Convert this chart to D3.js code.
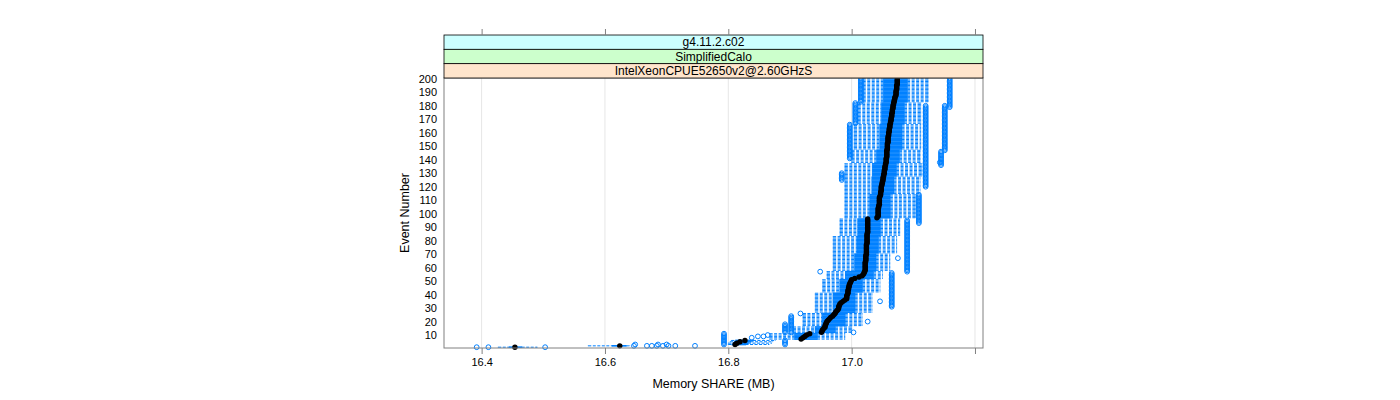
<!DOCTYPE html>
<html>
<head>
<meta charset="utf-8">
<script src="https://cdn.jsdelivr.net/npm/d3@7"></script>
<style>
  body { margin: 0; background: #fff; }
  text { font-family: "Liberation Sans", Arial, sans-serif; }
</style>
</head>
<body>
<svg id="chart"></svg>
<script>
// event numbers (y categories)
const events = d3.range(1, 201);

// per-event box statistics, Memory SHARE (MB)
const median = [
  16.454, 16.624, 16.811, 16.814, 16.819, 16.827, 16.918, 16.921, 16.924, 16.927,
  16.932, 16.951, 16.952, 16.953, 16.955, 16.957, 16.957, 16.958, 16.959, 16.960,
  16.962, 16.964, 16.966, 16.969, 16.971, 16.973, 16.974, 16.976, 16.978, 16.979,
  16.979, 16.980, 16.981, 16.983, 16.986, 16.989, 16.992, 16.992, 16.992, 16.993,
  16.994, 16.994, 16.994, 16.995, 16.995, 16.996, 16.996, 16.997, 16.998, 16.999,
  17.000, 17.005, 17.012, 17.017, 17.019, 17.020, 17.021, 17.022, 17.022, 17.022,
  17.022, 17.022, 17.022, 17.022, 17.023, 17.023, 17.023, 17.023, 17.023, 17.024,
  17.024, 17.024, 17.024, 17.024, 17.024, 17.024, 17.024, 17.025, 17.025, 17.025,
  17.025, 17.025, 17.025, 17.025, 17.025, 17.026, 17.026, 17.026, 17.026, 17.026,
  17.026, 17.026, 17.026, 17.026, 17.026, 17.026, 17.041, 17.043, 17.043, 17.043,
  17.043, 17.043, 17.043, 17.043, 17.044, 17.044, 17.045, 17.045, 17.045, 17.045,
  17.045, 17.045, 17.046, 17.047, 17.047, 17.047, 17.048, 17.048, 17.048, 17.048,
  17.049, 17.049, 17.050, 17.050, 17.051, 17.051, 17.051, 17.052, 17.052, 17.053,
  17.053, 17.053, 17.054, 17.054, 17.054, 17.055, 17.055, 17.056, 17.056, 17.056,
  17.056, 17.057, 17.057, 17.057, 17.057, 17.057, 17.057, 17.058, 17.058, 17.058,
  17.058, 17.058, 17.059, 17.059, 17.059, 17.059, 17.059, 17.060, 17.060, 17.060,
  17.061, 17.061, 17.061, 17.062, 17.062, 17.062, 17.063, 17.063, 17.064, 17.064,
  17.064, 17.065, 17.065, 17.065, 17.066, 17.066, 17.066, 17.067, 17.067, 17.067,
  17.068, 17.068, 17.069, 17.069, 17.070, 17.070, 17.071, 17.072, 17.072, 17.072,
  17.072, 17.073, 17.073, 17.073, 17.073, 17.074, 17.074, 17.074, 17.074, 17.074
];

const whiskerLo = [
  16.427, 16.573, 16.800, 16.800, 16.803, 16.805, 16.867, 16.867, 16.867, 16.867,
  16.867, 16.905, 16.905, 16.905, 16.905, 16.905, 16.921, 16.921, 16.921, 16.921,
  16.921, 16.921, 16.921, 16.921, 16.921, 16.921, 16.941, 16.941, 16.941, 16.941,
  16.941, 16.941, 16.941, 16.941, 16.941, 16.941, 16.941, 16.941, 16.941, 16.941,
  16.941, 16.953, 16.953, 16.953, 16.953, 16.953, 16.953, 16.953, 16.953, 16.953,
  16.953, 16.960, 16.960, 16.960, 16.960, 16.960, 16.960, 16.970, 16.970, 16.970,
  16.970, 16.970, 16.970, 16.970, 16.970, 16.970, 16.970, 16.970, 16.970, 16.970,
  16.970, 16.970, 16.970, 16.970, 16.970, 16.970, 16.970, 16.970, 16.970, 16.970,
  16.970, 16.970, 16.970, 16.981, 16.981, 16.981, 16.981, 16.981, 16.981, 16.981,
  16.981, 16.981, 16.981, 16.981, 16.981, 16.981, 16.989, 16.989, 16.989, 16.989,
  16.989, 16.989, 16.989, 16.989, 16.989, 16.989, 16.989, 16.989, 16.989, 16.989,
  16.989, 16.989, 16.989, 16.989, 16.989, 16.989, 16.989, 16.989, 16.989, 16.989,
  16.989, 16.989, 16.989, 16.989, 16.989, 16.989, 16.989, 16.989, 16.989, 16.989,
  16.989, 16.989, 16.989, 16.989, 16.989, 16.989, 16.989, 17.000, 17.000, 17.000,
  17.000, 17.000, 17.000, 17.000, 17.000, 17.000, 17.000, 17.004, 17.004, 17.004,
  17.004, 17.004, 17.004, 17.004, 17.004, 17.004, 17.004, 17.004, 17.004, 17.004,
  17.004, 17.004, 17.004, 17.004, 17.004, 17.004, 17.010, 17.010, 17.010, 17.010,
  17.010, 17.010, 17.010, 17.010, 17.010, 17.010, 17.010, 17.010, 17.010, 17.010,
  17.010, 17.010, 17.018, 17.018, 17.018, 17.018, 17.018, 17.018, 17.018, 17.018,
  17.018, 17.018, 17.018, 17.018, 17.018, 17.018, 17.018, 17.018, 17.018, 17.018
];

const boxLo = [
  16.445, 16.612, 16.806, 16.808, 16.810, 16.812, 16.908, 16.908, 16.908, 16.908,
  16.908, 16.941, 16.941, 16.941, 16.941, 16.941, 16.953, 16.953, 16.953, 16.953,
  16.953, 16.953, 16.953, 16.953, 16.953, 16.953, 16.970, 16.970, 16.970, 16.970,
  16.970, 16.970, 16.970, 16.970, 16.970, 16.970, 16.970, 16.970, 16.970, 16.970,
  16.970, 16.981, 16.981, 16.981, 16.981, 16.981, 16.981, 16.981, 16.981, 16.981,
  16.981, 16.990, 16.990, 16.990, 16.990, 16.990, 16.990, 17.005, 17.005, 17.005,
  17.005, 17.005, 17.005, 17.005, 17.005, 17.005, 17.005, 17.005, 17.005, 17.005,
  17.009, 17.009, 17.009, 17.009, 17.009, 17.009, 17.009, 17.009, 17.009, 17.009,
  17.009, 17.009, 17.009, 17.010, 17.010, 17.010, 17.010, 17.010, 17.010, 17.010,
  17.010, 17.010, 17.010, 17.010, 17.010, 17.010, 17.030, 17.030, 17.030, 17.030,
  17.030, 17.030, 17.030, 17.030, 17.030, 17.030, 17.030, 17.030, 17.030, 17.030,
  17.030, 17.030, 17.030, 17.030, 17.033, 17.033, 17.033, 17.033, 17.033, 17.033,
  17.033, 17.033, 17.033, 17.033, 17.033, 17.033, 17.033, 17.034, 17.034, 17.034,
  17.034, 17.034, 17.034, 17.034, 17.034, 17.034, 17.034, 17.041, 17.041, 17.041,
  17.041, 17.041, 17.041, 17.041, 17.041, 17.041, 17.041, 17.046, 17.046, 17.046,
  17.046, 17.046, 17.046, 17.046, 17.046, 17.046, 17.046, 17.046, 17.046, 17.046,
  17.046, 17.046, 17.046, 17.046, 17.046, 17.046, 17.049, 17.049, 17.049, 17.049,
  17.049, 17.049, 17.049, 17.049, 17.049, 17.049, 17.049, 17.049, 17.049, 17.049,
  17.049, 17.049, 17.052, 17.052, 17.052, 17.052, 17.052, 17.052, 17.052, 17.052,
  17.052, 17.052, 17.052, 17.052, 17.052, 17.052, 17.052, 17.052, 17.052, 17.052
];

const boxHi = [
  16.465, 16.634, 16.828, 16.832, 16.836, 16.840, 16.944, 16.944, 16.944, 16.944,
  16.944, 16.973, 16.973, 16.973, 16.973, 16.973, 16.989, 16.989, 16.989, 16.989,
  16.989, 16.989, 16.989, 16.989, 16.989, 16.989, 17.005, 17.005, 17.005, 17.005,
  17.005, 17.005, 17.005, 17.005, 17.005, 17.005, 17.005, 17.005, 17.005, 17.005,
  17.005, 17.017, 17.017, 17.017, 17.017, 17.017, 17.017, 17.017, 17.017, 17.017,
  17.017, 17.035, 17.035, 17.035, 17.035, 17.035, 17.035, 17.039, 17.039, 17.039,
  17.039, 17.039, 17.039, 17.039, 17.039, 17.039, 17.039, 17.039, 17.039, 17.039,
  17.043, 17.043, 17.043, 17.043, 17.043, 17.043, 17.043, 17.043, 17.043, 17.043,
  17.043, 17.043, 17.043, 17.046, 17.046, 17.046, 17.046, 17.046, 17.046, 17.046,
  17.046, 17.046, 17.046, 17.046, 17.046, 17.046, 17.062, 17.062, 17.062, 17.062,
  17.062, 17.062, 17.062, 17.062, 17.062, 17.062, 17.062, 17.062, 17.062, 17.062,
  17.062, 17.062, 17.062, 17.062, 17.068, 17.068, 17.068, 17.068, 17.068, 17.068,
  17.068, 17.068, 17.068, 17.068, 17.068, 17.068, 17.068, 17.072, 17.072, 17.072,
  17.072, 17.072, 17.072, 17.072, 17.072, 17.072, 17.072, 17.077, 17.077, 17.077,
  17.077, 17.077, 17.077, 17.077, 17.077, 17.077, 17.077, 17.081, 17.081, 17.081,
  17.081, 17.081, 17.081, 17.081, 17.081, 17.081, 17.081, 17.081, 17.081, 17.081,
  17.081, 17.081, 17.081, 17.081, 17.081, 17.081, 17.085, 17.085, 17.085, 17.085,
  17.085, 17.085, 17.085, 17.085, 17.085, 17.085, 17.085, 17.085, 17.085, 17.085,
  17.085, 17.085, 17.090, 17.090, 17.090, 17.090, 17.090, 17.090, 17.090, 17.090,
  17.090, 17.090, 17.090, 17.090, 17.090, 17.090, 17.090, 17.090, 17.090, 17.090
];

const whiskerHi = [
  16.490, 16.640, 16.866, 16.870, 16.872, 16.876, 16.989, 16.989, 16.989, 16.989,
  16.989, 17.000, 17.000, 17.000, 17.000, 17.000, 17.017, 17.017, 17.017, 17.017,
  17.017, 17.017, 17.017, 17.017, 17.017, 17.017, 17.033, 17.033, 17.033, 17.033,
  17.033, 17.033, 17.033, 17.033, 17.033, 17.033, 17.033, 17.033, 17.033, 17.033,
  17.033, 17.046, 17.046, 17.046, 17.046, 17.046, 17.046, 17.046, 17.046, 17.046,
  17.046, 17.050, 17.050, 17.050, 17.050, 17.050, 17.050, 17.062, 17.062, 17.062,
  17.062, 17.062, 17.062, 17.062, 17.062, 17.062, 17.062, 17.062, 17.062, 17.062,
  17.073, 17.073, 17.073, 17.073, 17.073, 17.073, 17.073, 17.073, 17.073, 17.073,
  17.073, 17.073, 17.073, 17.078, 17.078, 17.078, 17.078, 17.078, 17.078, 17.078,
  17.078, 17.078, 17.078, 17.078, 17.078, 17.078, 17.104, 17.104, 17.104, 17.104,
  17.104, 17.104, 17.104, 17.104, 17.104, 17.104, 17.104, 17.104, 17.104, 17.104,
  17.104, 17.104, 17.104, 17.104, 17.111, 17.111, 17.111, 17.111, 17.111, 17.111,
  17.111, 17.111, 17.111, 17.111, 17.111, 17.111, 17.111, 17.114, 17.114, 17.114,
  17.114, 17.114, 17.114, 17.114, 17.114, 17.114, 17.114, 17.111, 17.111, 17.111,
  17.111, 17.111, 17.111, 17.111, 17.111, 17.111, 17.111, 17.112, 17.112, 17.112,
  17.112, 17.112, 17.112, 17.112, 17.112, 17.112, 17.112, 17.112, 17.112, 17.112,
  17.112, 17.112, 17.112, 17.112, 17.112, 17.112, 17.112, 17.112, 17.112, 17.112,
  17.112, 17.112, 17.112, 17.112, 17.112, 17.112, 17.112, 17.112, 17.112, 17.112,
  17.112, 17.112, 17.124, 17.124, 17.124, 17.124, 17.124, 17.124, 17.124, 17.124,
  17.124, 17.124, 17.124, 17.124, 17.124, 17.124, 17.124, 17.124, 17.124, 17.124
];

// outliers: same value repeated for event range [from, to]
const outFrom  = [1, 1, 1, 2, 2, 2, 2, 2, 2, 2, 2, 3, 3, 3, 3, 3, 8, 9, 9, 10, 12, 12, 12, 20, 26, 35, 31, 57, 67, 57, 93, 125, 120, 138, 136, 147, 179, 141, 167, 183];
const outTo    = [1, 1, 1, 2, 2, 2, 2, 2, 2, 2, 2, 3, 3, 3, 11, 6, 8, 9, 9, 10, 18, 24, 12, 20, 26, 35, 56, 57, 67, 95, 114, 130, 180, 138, 146, 180, 200, 166, 182, 200];
const outValue = [16.392, 16.411, 16.503, 16.647, 16.668, 16.676, 16.684, 16.694, 16.703, 16.714, 16.746,
                  16.649, 16.686, 16.700, 16.793, 16.892, 16.838, 16.848, 16.857, 16.864, 16.892, 16.902,
                  17.003, 17.026, 16.917, 17.046, 17.065, 16.949, 17.075, 17.090, 17.109, 16.984, 17.120,
                  17.143, 17.145, 17.151, 17.159, 16.997, 17.006, 17.015];

const xTicks = [16.4, 16.6, 16.8, 17.0, 17.2];
const xTickLabels = ['16.4', '16.6', '16.8', '17.0', ''];
const yTicks = [10, 20, 30, 40, 50, 60, 70, 80, 90, 100, 110, 120, 130, 140, 150, 160, 170, 180, 190, 200];
const stripLabels = ['g4.11.2.c02', 'SimplifiedCalo', 'IntelXeonCPUE52650v2@2.60GHzS'];
const stripColors = ['#ccffff', '#ccffcc', '#ffe5cc'];

const width = 1400, height = 400;
const pL = 444, pR = 983, pT = 78, pB = 348;
const stripH = 14.33;
const blue = '#0080ff';
const frame = '#808080';

const svg = d3.select('#chart')
    .attr('width', width)
    .attr('height', height);

svg.append('rect').attr('width', width).attr('height', height).attr('fill', '#fff');

const x = d3.scaleLinear().domain([16.339, 17.213]).range([pL, pR]);
const y = d3.scaleLinear().domain([0.4, 200.6]).range([pB, pT]);
const boxH = (y(0) - y(1)) * 0.5;

// grid
svg.append('g')
    .selectAll('line')
    .data(xTicks)
    .enter()
    .append('line')
    .attr('x1', d => x(d)).attr('x2', d => x(d))
    .attr('y1', pT).attr('y2', pB)
    .attr('stroke', '#e6e6e6').attr('stroke-width', 1);

const rows = events.map((e, i) => ({
    e: e, lo: whiskerLo[i], q1: boxLo[i], med: median[i], q3: boxHi[i], hi: whiskerHi[i]
}));

const outliers = [];
outValue.forEach((v, k) => {
    for (let e = outFrom[k]; e <= outTo[k]; e++) outliers.push({ e: e, v: v });
});

const plot = svg.append('g');

// boxes
plot.selectAll('rect.box')
    .data(rows)
    .enter()
    .append('rect')
    .attr('class', 'box')
    .attr('x', d => x(d.q1))
    .attr('y', d => y(d.e) - boxH / 2)
    .attr('width', d => x(d.q3) - x(d.q1))
    .attr('height', boxH)
    .attr('fill', 'none')
    .attr('stroke', blue)
    .attr('stroke-width', 1);

// whiskers (dashed)
plot.selectAll('line.wlo')
    .data(rows)
    .enter()
    .append('line')
    .attr('x1', d => x(d.lo)).attr('x2', d => x(d.q1))
    .attr('y1', d => y(d.e)).attr('y2', d => y(d.e))
    .attr('stroke', blue).attr('stroke-dasharray', '3,1.5');

plot.selectAll('line.whi')
    .data(rows)
    .enter()
    .append('line')
    .attr('x1', d => x(d.q3)).attr('x2', d => x(d.hi))
    .attr('y1', d => y(d.e)).attr('y2', d => y(d.e))
    .attr('stroke', blue).attr('stroke-dasharray', '3,1.5');

// umbrella ends
['lo', 'hi'].forEach(k => {
    plot.selectAll('line.cap' + k)
        .data(rows)
        .enter()
        .append('line')
        .attr('x1', d => x(d[k])).attr('x2', d => x(d[k]))
        .attr('y1', d => y(d.e) - boxH / 2).attr('y2', d => y(d.e) + boxH / 2)
        .attr('stroke', blue);
});

// medians
plot.selectAll('circle.med')
    .data(rows)
    .enter()
    .append('circle')
    .attr('cx', d => x(d.med))
    .attr('cy', d => y(d.e))
    .attr('r', 2.7)
    .attr('fill', '#000');

// outliers
plot.selectAll('circle.out')
    .data(outliers)
    .enter()
    .append('circle')
    .attr('cx', d => x(d.v))
    .attr('cy', d => y(d.e))
    .attr('r', 2.4)
    .attr('fill', 'none')
    .attr('stroke', blue)
    .attr('stroke-width', 1);

// panel frame
svg.append('rect')
    .attr('x', pL).attr('y', pT)
    .attr('width', pR - pL).attr('height', pB - pT)
    .attr('fill', 'none').attr('stroke', frame);

// strips
stripLabels.forEach((lab, i) => {
    const sy = pT - stripH * (3 - i);
    svg.append('rect')
        .attr('x', pL).attr('y', sy)
        .attr('width', pR - pL).attr('height', stripH)
        .attr('fill', stripColors[i]).attr('stroke', '#000').attr('stroke-width', 0.8);
    svg.append('text')
        .attr('x', (pL + pR) / 2).attr('y', sy + stripH / 2 + 4)
        .attr('text-anchor', 'middle')
        .attr('font-size', 12)
        .text(lab);
});

// axes
const xAxis = svg.append('g')
    .attr('transform', `translate(0, ${pB})`)
    .call(d3.axisBottom(x).tickValues(xTicks).tickFormat((d, i) => xTickLabels[i]).tickSize(6).tickPadding(4));
xAxis.select('.domain').remove();
xAxis.selectAll('line').attr('stroke', frame);
xAxis.selectAll('text').attr('font-size', 11).attr('fill', '#000')
    .style('font-family', '"Liberation Sans", Arial, sans-serif');

const xTop = svg.append('g')
    .attr('transform', `translate(0, ${pT - stripH * 3})`)
    .call(d3.axisTop(x).tickValues(xTicks).tickFormat('').tickSize(6));
xTop.select('.domain').remove();
xTop.selectAll('line').attr('stroke', frame);

const yAxis = svg.append('g')
    .attr('transform', `translate(${pL}, 0)`)
    .call(d3.axisLeft(y).tickValues(yTicks).tickFormat(d3.format('d')).tickSize(0).tickPadding(7));
yAxis.select('.domain').remove();
yAxis.selectAll('text').attr('font-size', 11).attr('fill', '#000')
    .style('font-family', '"Liberation Sans", Arial, sans-serif');

// axis titles
svg.append('text')
    .attr('x', (pL + pR) / 2).attr('y', 388)
    .attr('text-anchor', 'middle')
    .attr('font-size', 12.5)
    .text('Memory SHARE (MB)');

svg.append('text')
    .attr('transform', `translate(409, ${(pT + pB) / 2}) rotate(-90)`)
    .attr('text-anchor', 'middle')
    .attr('font-size', 12.5)
    .text('Event Number');
</script>
</body>
</html>
